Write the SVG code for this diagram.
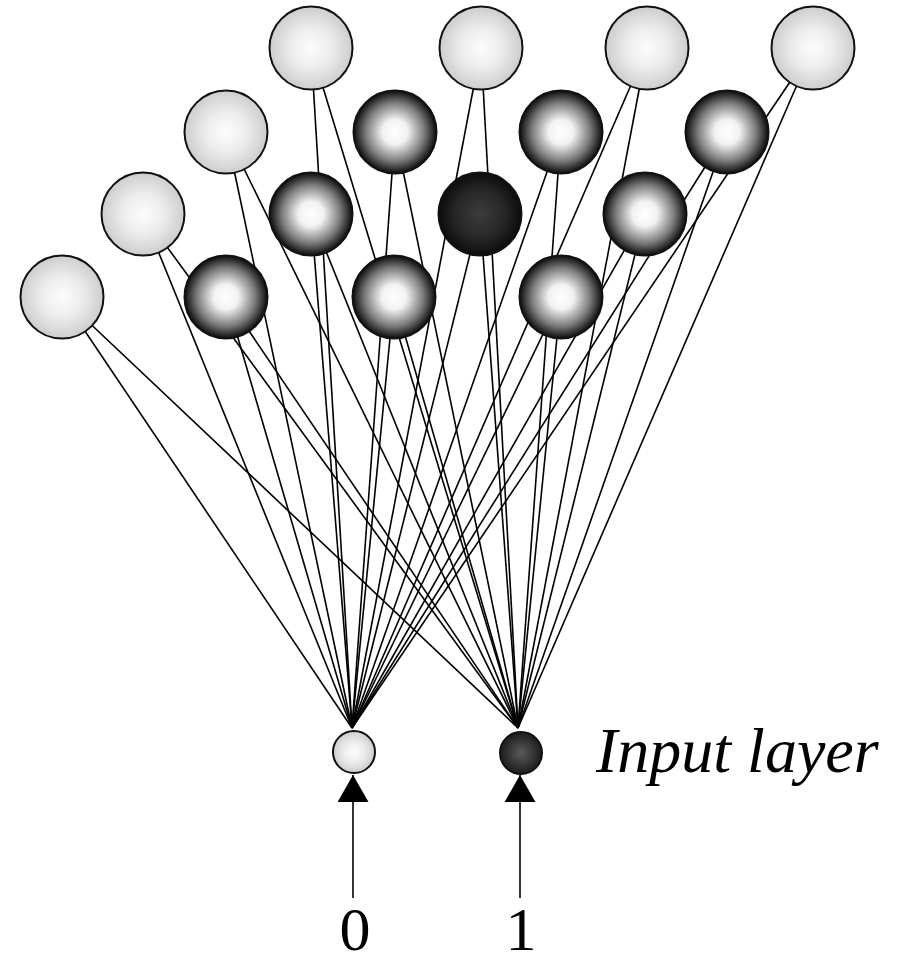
<svg xmlns="http://www.w3.org/2000/svg" width="920" height="964" viewBox="0 0 920 964">
<defs>
<radialGradient id="gLight" cx="50%" cy="50%" r="50%">
<stop offset="0" stop-color="#fdfdfd"/>
<stop offset="0.5" stop-color="#ececec"/>
<stop offset="1" stop-color="#cdcdcd"/>
</radialGradient>
<radialGradient id="gDark" cx="50%" cy="50%" r="50%">
<stop offset="0" stop-color="#ffffff"/>
<stop offset="0.3" stop-color="#f2f2f2"/>
<stop offset="0.7" stop-color="#7c7c7c"/>
<stop offset="1" stop-color="#0c0c0c"/>
</radialGradient>
<radialGradient id="gWin" cx="50%" cy="50%" r="50%">
<stop offset="0" stop-color="#3c3c3c"/>
<stop offset="0.6" stop-color="#262626"/>
<stop offset="1" stop-color="#0c0c0c"/>
</radialGradient>
<radialGradient id="gInDark" cx="50%" cy="50%" r="50%">
<stop offset="0" stop-color="#5a5a5a"/>
<stop offset="1" stop-color="#1c1c1c"/>
</radialGradient>
<marker id="arr" viewBox="0 0 27 31" refX="27" refY="15.5" markerWidth="27" markerHeight="31" markerUnits="userSpaceOnUse" orient="auto">
<path d="M0,0 L27,15.5 L0,31 z" fill="#000"/>
</marker>
</defs>
<style>
.n circle{stroke:#111;stroke-width:2}
.light{fill:url(#gLight)}
.dark{fill:url(#gDark)}
.win{fill:url(#gWin)}
.indark{fill:url(#gInDark)}
#connectors line{stroke:#000;stroke-width:1.6}
.lbl{font-family:"Liberation Serif","Times New Roman",serif;fill:#000}
</style>
<g id="connectors">
<line x1="311" y1="48" x2="352" y2="728"/><line x1="311" y1="48" x2="518" y2="728"/>
<line x1="481" y1="48" x2="352" y2="728"/><line x1="481" y1="48" x2="518" y2="728"/>
<line x1="647" y1="48" x2="352" y2="728"/><line x1="647" y1="48" x2="518" y2="728"/>
<line x1="813" y1="48" x2="352" y2="728"/><line x1="813" y1="48" x2="518" y2="728"/>
<line x1="226" y1="132" x2="352" y2="728"/><line x1="226" y1="132" x2="518" y2="728"/>
<line x1="395" y1="132" x2="352" y2="728"/><line x1="395" y1="132" x2="518" y2="728"/>
<line x1="561" y1="132" x2="352" y2="728"/><line x1="561" y1="132" x2="518" y2="728"/>
<line x1="727" y1="132" x2="352" y2="728"/><line x1="727" y1="132" x2="518" y2="728"/>
<line x1="143" y1="214" x2="352" y2="728"/><line x1="143" y1="214" x2="518" y2="728"/>
<line x1="311" y1="214" x2="352" y2="728"/><line x1="311" y1="214" x2="518" y2="728"/>
<line x1="480" y1="214" x2="352" y2="728"/><line x1="480" y1="214" x2="518" y2="728"/>
<line x1="645" y1="214" x2="352" y2="728"/><line x1="645" y1="214" x2="518" y2="728"/>
<line x1="62" y1="297" x2="352" y2="728"/><line x1="62" y1="297" x2="518" y2="728"/>
<line x1="226" y1="297" x2="352" y2="728"/><line x1="226" y1="297" x2="518" y2="728"/>
<line x1="394" y1="297" x2="352" y2="728"/><line x1="394" y1="297" x2="518" y2="728"/>
<line x1="561" y1="297" x2="352" y2="728"/><line x1="561" y1="297" x2="518" y2="728"/>
<line x1="353" y1="898" x2="353" y2="775" marker-end="url(#arr)"/>
<line x1="520" y1="898" x2="520" y2="775" marker-end="url(#arr)"/>
</g>
<g id="n00" class="n"><circle class="light" cx="311" cy="48" r="41.5"/></g>
<g id="n01" class="n"><circle class="light" cx="481" cy="48" r="41.5"/></g>
<g id="n02" class="n"><circle class="light" cx="647" cy="48" r="41.5"/></g>
<g id="n03" class="n"><circle class="light" cx="813" cy="48" r="41.5"/></g>
<g id="n10" class="n"><circle class="light" cx="226" cy="132" r="41.5"/></g>
<g id="n11" class="n"><circle class="dark" cx="395" cy="132" r="41.5"/></g>
<g id="n12" class="n"><circle class="dark" cx="561" cy="132" r="41.5"/></g>
<g id="n13" class="n"><circle class="dark" cx="727" cy="132" r="41.5"/></g>
<g id="n20" class="n"><circle class="light" cx="143" cy="214" r="41.5"/></g>
<g id="n21" class="n"><circle class="dark" cx="311" cy="214" r="41.5"/></g>
<g id="n22" class="n"><circle class="win" cx="480" cy="214" r="41.5"/></g>
<g id="n23" class="n"><circle class="dark" cx="645" cy="214" r="41.5"/></g>
<g id="n30" class="n"><circle class="light" cx="62" cy="297" r="41.5"/></g>
<g id="n31" class="n"><circle class="dark" cx="226" cy="297" r="41.5"/></g>
<g id="n32" class="n"><circle class="dark" cx="394" cy="297" r="41.5"/></g>
<g id="n33" class="n"><circle class="dark" cx="561" cy="297" r="41.5"/></g>
<g id="in0" class="n"><circle class="light" cx="354" cy="752" r="21"/></g>
<g id="in1" class="n"><circle class="indark" cx="521" cy="753" r="21"/></g>
<g id="labels">
<text class="lbl" x="596" y="772" font-size="64" font-style="italic">Input layer</text>
<text class="lbl" x="355" y="950" font-size="62" text-anchor="middle">0</text>
<text class="lbl" x="521" y="950" font-size="62" text-anchor="middle">1</text>
</g>
</svg>
